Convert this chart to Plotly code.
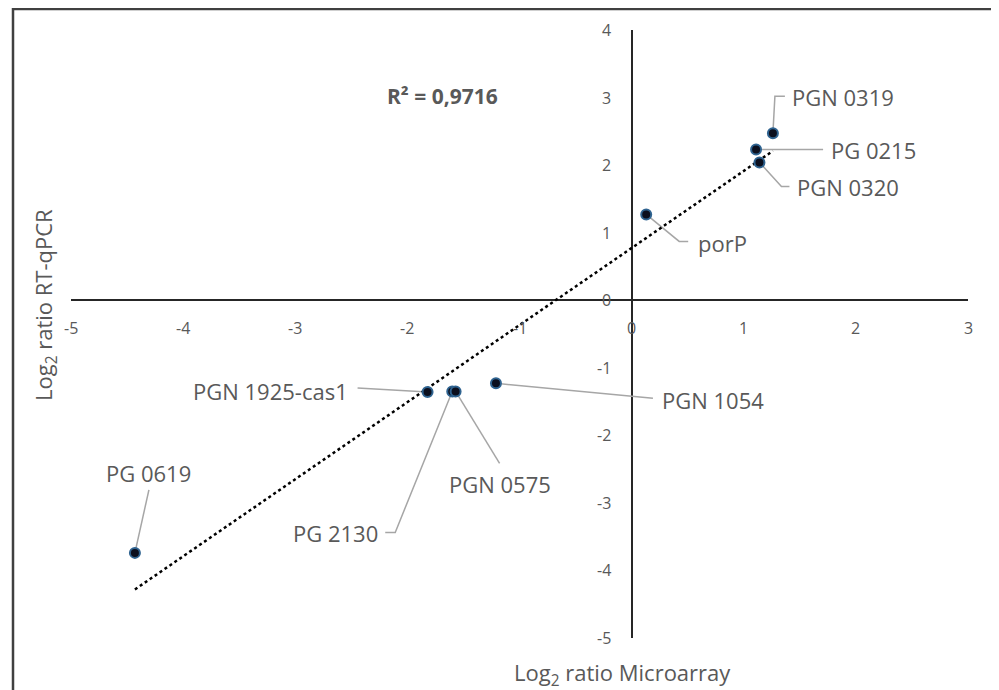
import numpy as np
import plotly.graph_objects as go

# ---- data ----
genes = ["PGN 0319", "PG 0215", "PGN 0320", "porP", "PGN 1054",
         "PGN 1925-cas1", "PG 2130", "PGN 0575", "PG 0619"]
microarray = [1.26, 1.11, 1.14, 0.13, -1.21, -1.82, -1.60, -1.57, -4.43]
rtqpcr = [2.47, 2.23, 2.04, 1.27, -1.23, -1.36, -1.35, -1.35, -3.74]
x_ticks = [-5, -4, -3, -2, -1, 0, 1, 2, 3]
y_ticks = [-5, -4, -3, -2, -1, 0, 1, 2, 3, 4]
r2_label = "R² = 0,9716"
x_title = "Log<sub>2</sub> ratio Microarray"
y_title = "Log<sub>2</sub> ratio RT-qPCR"

# ---- layout constants (pixels) ----
OFF = 8  # default page body margin
W, H = 999 - OFF, 690 - OFF
ML, MR, MT, MB = 71 - OFF, 31, 30 - OFF, 52
PW, PH = W - ML - MR, H - MT - MB
XR, YR = (-5, 3), (-5, 4)
PX_X = PW / (XR[1] - XR[0])
PX_Y = PH / (YR[1] - YR[0])

# leader-line offsets in px (dx right, dy down), text offset, anchor
leaders = {
    "PGN 0319": ([(0, 0), (2, -37), (12, -37)], (17, -36), "left"),
    "PG 0215": ([(6, 0), (67, 0)], (73, 0), "left"),
    "PGN 0320": ([(0, 0), (22, 24), (30, 24)], (36, 25), "left"),
    "porP": ([(0, 0), (33, 27), (42, 27)], (50, 29), "left"),
    "PGN 1054": ([(0, 0), (157, 15)], (164, 17), "left"),
    "PGN 1925-cas1": ([(0, 0), (-70, -4)], (-78, -1), "right"),
    "PG 2130": ([(0, 0), (-57, 141), (-67, 141)], (-72, 142), "right"),
    "PGN 0575": ([(0, 0), (44, 72)], (44, 93), "center"),
    "PG 0619": ([(0, 0), (14, -63)], (14, -80), "center"),
}

FONT = "Open Sans"
GRAY = "#595959"

fig = go.Figure()

# leader lines
for g, xv, yv in zip(genes, microarray, rtqpcr):
    pts, _, _ = leaders[g]
    lx = [xv + dx / PX_X for dx, dy in pts]
    ly = [yv - dy / PX_Y for dx, dy in pts]
    fig.add_trace(go.Scatter(x=lx, y=ly, mode="lines",
                             line=dict(color="#a6a6a6", width=1.5),
                             hoverinfo="skip", showlegend=False))

# trendline (linear fit)
coef = np.polyfit(microarray, rtqpcr, 1)
tx = np.array([min(microarray), max(microarray)])
ty = np.polyval(coef, tx)
fig.add_trace(go.Scatter(x=tx, y=ty, mode="lines",
                         line=dict(color="#000000", width=2.5, dash="dot"),
                         hoverinfo="skip", showlegend=False))

# points
fig.add_trace(go.Scatter(x=microarray, y=rtqpcr, mode="markers", text=genes,
                         marker=dict(size=10, color="#0b0f1e",
                                     line=dict(color="#2f6390", width=2)),
                         showlegend=False))

annotations = []
for g, xv, yv in zip(genes, microarray, rtqpcr):
    _, (tdx, tdy), anchor = leaders[g]
    annotations.append(dict(x=xv, y=yv, xref="x", yref="y", text=g,
                            showarrow=False, xshift=tdx, yshift=-tdy,
                            xanchor=anchor, yanchor="middle",
                            font=dict(family=FONT, size=22, color=GRAY)))

for v in x_ticks:
    annotations.append(dict(x=v, y=0, xref="x", yref="y", text=str(v),
                            showarrow=False, yshift=-28, xanchor="center",
                            yanchor="middle",
                            font=dict(family=FONT, size=16, color=GRAY)))
for v in y_ticks:
    annotations.append(dict(x=0, y=v, xref="x", yref="y", text=str(v),
                            showarrow=False, xshift=-19, xanchor="right",
                            yanchor="middle",
                            font=dict(family=FONT, size=16, color=GRAY)))

def px2paper_x(px):
    return (px - OFF - ML) / PW

def px2paper_y(py):
    return (H + OFF - MB - py) / PH

annotations.append(dict(x=px2paper_x(622), y=px2paper_y(674), xref="paper",
                        yref="paper", text=x_title, showarrow=False,
                        xanchor="center", yanchor="middle",
                        font=dict(family=FONT, size=22, color=GRAY)))
annotations.append(dict(x=px2paper_x(45), y=px2paper_y(305), xref="paper",
                        yref="paper", text=y_title, showarrow=False,
                        textangle=-90, xanchor="center", yanchor="middle",
                        font=dict(family=FONT, size=22, color=GRAY)))
annotations.append(dict(x=px2paper_x(385), y=px2paper_y(96), xref="paper",
                        yref="paper", text="<b>" + r2_label + "</b>",
                        showarrow=False, xanchor="left", yanchor="middle",
                        font=dict(family=FONT, size=21, color=GRAY)))

fig.update_layout(
    width=W, height=H,
    margin=dict(l=ML, r=MR, t=MT, b=MB),
    paper_bgcolor="white", plot_bgcolor="white",
    xaxis=dict(range=list(XR), showgrid=False, showticklabels=False,
               showline=False, ticks="", zeroline=True,
               zerolinecolor="#262626", zerolinewidth=2),
    yaxis=dict(range=list(YR), showgrid=False, showticklabels=False,
               showline=False, ticks="", zeroline=True,
               zerolinecolor="#262626", zerolinewidth=2),
    annotations=annotations,
    shapes=[dict(type="rect", xref="paper", yref="paper",
                 x0=px2paper_x(13), x1=px2paper_x(993),
                 y0=px2paper_y(705), y1=px2paper_y(9),
                 line=dict(color="#404040", width=2.5), layer="above")],
    showlegend=False,
)

fig.write_html("out.html")
